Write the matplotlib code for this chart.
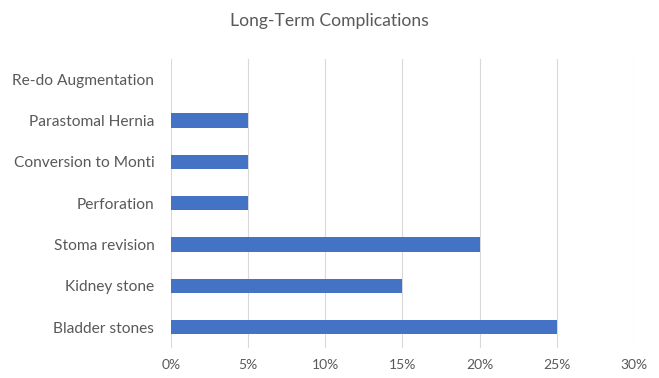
import matplotlib
matplotlib.use("Agg")
import matplotlib.pyplot as plt
from matplotlib.ticker import PercentFormatter

categories = ["Bladder stones", "Kidney stone", "Stoma revision", "Perforation",
              "Conversion to Monti", "Parastomal Hernia", "Re-do Augmentation"]
values = [25, 15, 20, 5, 5, 5, 0]
xticks = [0, 5, 10, 15, 20, 25, 30]

plt.rcParams['font.family'] = ['Lato', 'DejaVu Sans']

fig = plt.figure(figsize=(6.59, 3.78), dpi=100)
ax = fig.add_axes([0.2595, 0.080, 0.7025, 0.765])
ax.barh(range(len(categories)), values, height=0.35, color="#4472C4", zorder=3)
ax.set_yticks(range(len(categories)))
ax.set_yticklabels(categories, fontsize=11.2, color="#595959")
ax.set_xlim(0, 30)
ax.set_ylim(-0.5, len(categories) - 0.5)
ax.set_xticks(xticks)
ax.xaxis.set_major_formatter(PercentFormatter(decimals=0))
ax.tick_params(axis='x', labelsize=10, labelcolor="#595959", length=0, pad=8)
ax.tick_params(axis='y', length=0, pad=12)
ax.grid(axis='x', color="#D9D9D9", linewidth=0.8, zorder=0)
for s in ax.spines.values():
    s.set_visible(False)
fig.text(0.5, 0.945, "Long-Term Complications", ha='center', va='center',
         fontsize=12.6, color="#595959")
fig.savefig("out.png", dpi=100)
